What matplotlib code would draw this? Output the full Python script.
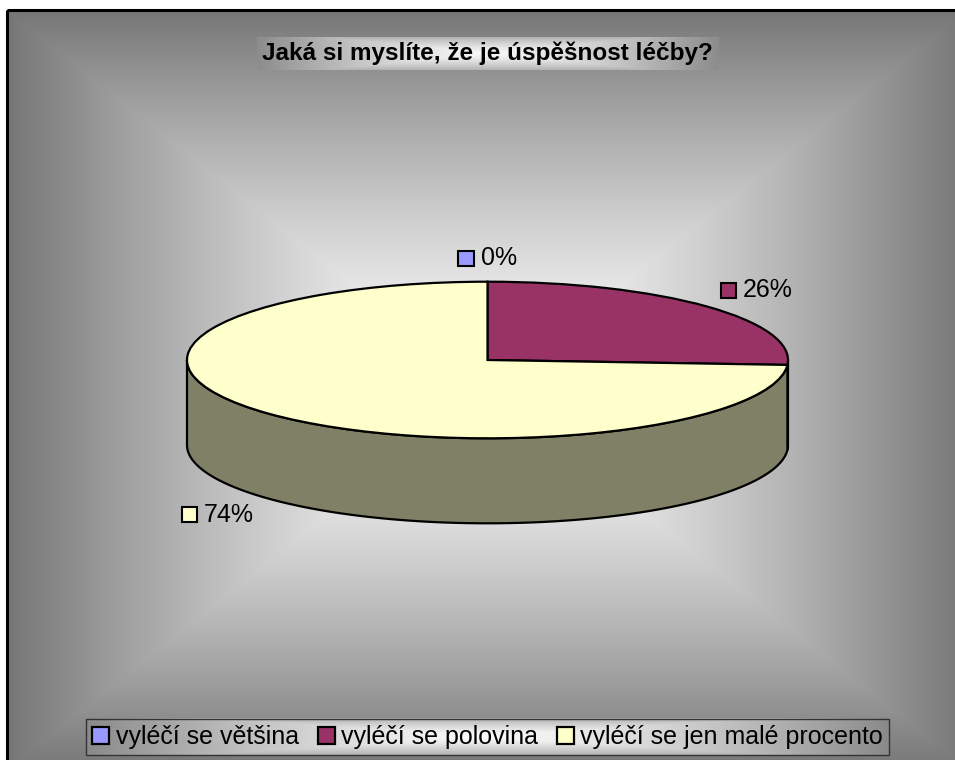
import numpy as np
import matplotlib
matplotlib.use('Agg')
from matplotlib import pyplot as plt
from matplotlib.colors import to_rgb
from matplotlib.patches import Rectangle
from matplotlib.offsetbox import AnnotationBbox, DrawingArea, TextArea, HPacker

plt.rcParams['font.family'] = ['Liberation Sans', 'DejaVu Sans']

# data
title = 'Jaká si myslíte, že je úspěšnost léčby?'
labels = ['vyléčí se většina', 'vyléčí se polovina', 'vyléčí se jen malé procento']
values = [0, 26, 74]
colors = ['#9999FF', '#993366', '#FFFFCC']
side_colors = ['#4D4D80', '#4D1A33', '#808066']

W, H = 955, 760
fig = plt.figure(figsize=(W / 100, H / 100), dpi=100)


def gradient(nx, ny, inner, outer, power=1.0, yweight=1.0):
    # rectangular gradient "from center" (light middle, grey edges)
    sx = np.abs(np.linspace(-1, 1, int(nx)))
    sy = np.abs(np.linspace(-1, 1, int(ny))) * yweight
    t = np.maximum(sx[None, :], sy[:, None]) ** power
    c0 = np.array(to_rgb(inner))
    c1 = np.array(to_rgb(outer))
    return c0 + (c1 - c0) * t[..., None]


def shade_box(ax, x0, x1, y0, y1, inner, outer, power=1.0, yweight=1.0, z=1):
    img = gradient(round(x1 - x0), round(y1 - y0), inner, outer, power, yweight)
    ax.imshow(img, extent=(x0, x1, y1, y0), aspect='auto', interpolation='nearest', zorder=z)


# background axes in pixel coords (y down)
ax_bg = fig.add_axes([0, 0, 1, 1])
shade_box(ax_bg, 7, 967, 10, 770, '#ffffff', '#767676', power=1.3, z=0)
ax_bg.add_patch(Rectangle((7, 10), 960, 760, fill=False, edgecolor='black', linewidth=2.2, zorder=2))

# title box
shade_box(ax_bg, 257, 718, 37, 70, '#f8f8f8', '#8c8c8c', power=1.3, yweight=0.7)
ax_bg.text(487.5, 53.5, title, ha='center', va='center', fontsize=17.5, fontweight='bold', zorder=3)
ax_bg.set_xlim(0, W)
ax_bg.set_ylim(H, 0)
ax_bg.set_axis_off()

# pie geometry (pixels)
cx, cy, rx, ry, depth = 487.5, 360.0, 300.5, 78.3, 85.0
d = depth / ry
xlim = (-1.05, 1.05)
ylim = (-1 - d - 0.1, 1.1)
left = cx + xlim[0] * rx
right = cx + xlim[1] * rx
top = cy - ylim[1] * ry
bottom = cy - ylim[0] * ry
ax = fig.add_axes([left / W, 1 - bottom / H, (right - left) / W, (bottom - top) / H])

wedges, _ = ax.pie(values, colors=colors, startangle=90, counterclock=False,
                   wedgeprops=dict(edgecolor='black', linewidth=1.6))
for w in wedges:
    w.set_zorder(3)
ax.set_aspect('auto')
ax.set_xlim(xlim)
ax.set_ylim(ylim)
ax.set_axis_off()

# side wall of the 3D pie, visible front half only
total = float(sum(values))
bounds = 90 - 360 * np.concatenate([[0], np.cumsum(values)]) / total
for i in range(len(values)):
    hi = min(bounds[i], 0)
    lo = max(bounds[i + 1], -180)
    if hi > lo:
        t = np.radians(np.linspace(hi, lo, 200))
        xs = np.cos(t)
        ys = np.sin(t)
        ax.fill(np.concatenate([xs, xs[::-1]]), np.concatenate([ys, ys[::-1] - d]),
                facecolor=side_colors[i], edgecolor='black', linewidth=1.6, zorder=1)

# data labels
for i, v in enumerate(values):
    mid = np.radians((bounds[i] + bounds[i + 1]) / 2)
    lx = 1.23 * np.cos(mid)
    ly = 1.3 * np.sin(mid)
    if np.sin(mid) < 0:
        ly -= d
    da = DrawingArea(11, 11, 0, 0)
    da.add_artist(Rectangle((0, 0), 11, 11, facecolor=colors[i], edgecolor='black', linewidth=1.5))
    ta = TextArea(f'{v}%', textprops=dict(fontsize=18))
    pack = HPacker(children=[da, ta], align='center', pad=0, sep=5)
    ab = AnnotationBbox(pack, (lx, ly), xycoords='data', frameon=False,
                        box_alignment=(0.5, 0.5), annotation_clip=False)
    ax.add_artist(ab)

# legend
leg = fig.legend(wedges, labels, loc='center', bbox_to_anchor=(487.5 / W, 1 - 737 / H),
                 ncol=3, fontsize=18, handlelength=0.68, handleheight=0.68,
                 handletextpad=0.25, columnspacing=0.75, borderpad=0.25,
                 fancybox=False, framealpha=1)
leg.get_frame().set_facecolor('none')
leg.get_frame().set_edgecolor('#333333')
leg.get_frame().set_linewidth(1.0)

fig.canvas.draw()
bb = leg.get_window_extent()
shade_box(ax_bg, bb.x0, bb.x1, H - bb.y1, H - bb.y0, '#fafafa', '#8a8a8a', power=1.3, yweight=0.7)
ax_bg.set_xlim(0, W)
ax_bg.set_ylim(H, 0)

fig.savefig('out.png', dpi=100)
